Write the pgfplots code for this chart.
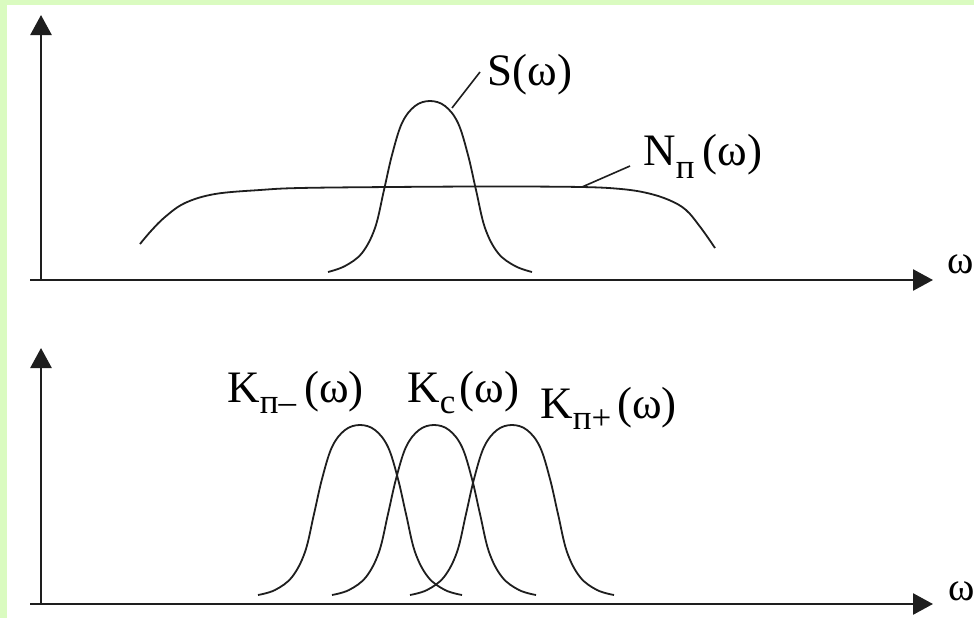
\documentclass[border=0pt]{standalone}
\usepackage{fontspec}
\setmainfont{Liberation Serif}
\usepackage{pgfplots}
\pgfplotsset{compat=1.18}
\usetikzlibrary{arrows.meta}

\definecolor{framegreen}{RGB}{218,251,192}
\definecolor{inkgray}{RGB}{30,30,30}

\newcommand\lbl{\fontsize{22.5}{27}\selectfont}
\newcommand\sub[2][5.5pt]{\raisebox{-#1}{\fontsize{17.5}{19}\selectfont #2}}

\pgfplotsset{
  spectrum/.style={
    x=0.5pt, y=0.5pt, xmin=-41, xmax=933,
    axis lines=none, clip=false, anchor=south west,
  },
  curve/.style={inkgray, line width=0.9pt, smooth, tension=0.6, no markers},
}
\tikzset{
  axisarrow/.style={inkgray, line width=1.3pt, -{Triangle[width=10.5pt,length=10pt]}},
  leader/.style={inkgray, line width=0.8pt},
  tag/.style={anchor=base west, inner sep=0pt, font=\lbl},
  omega/.style={anchor=base west, inner sep=0pt, font=\fontsize{20}{22}\selectfont},
}

\begin{document}
\begin{tikzpicture}
\useasboundingbox (0,0) rectangle (487pt,309pt);
\fill[framegreen] (0,0) rectangle (487pt,309pt);
\fill[white] (3.5pt,0) rectangle (487pt,306.5pt);

% upper panel: signal spectrum S and noise spectrum N
\begin{axis}[spectrum, at={(0pt,154.5pt)}, ymin=-29, ymax=280]
  \draw[axisarrow] (axis cs:-11,0) -- (axis cs:892,0);
  \draw[axisarrow] (axis cs:0,0) -- (axis cs:0,265);
  % S(omega)
  \addplot[curve] coordinates {
    (287,8) (304,14) (321,27) (334,52) (343,90) (351,125) (361,157)
    (374,174) (389,179) (404,174) (417,157) (427,125) (435,90)
    (444,52) (457,27) (474,14) (491,8)};
  % N(omega)
  \addplot[curve] coordinates {
    (99,36) (110,49) (124,63) (144,77) (174,86) (219,90) (259,92)
    (350,93) (450,93.5) (540,93) (580,91) (606,87) (628,80) (645,70)
    (660,52) (674,32)};
  \draw[leader] (axis cs:411,172) -- (axis cs:439,208);
  \draw[leader] (axis cs:541,93) -- (axis cs:589,114);
  \node[tag] at (axis cs:446,195) {S(ω)};
  \node[tag] at (axis cs:602,115) {N\sub[6.5pt]{п}\hspace{4pt}(ω)};
  \node[omega] at (axis cs:906,7) {ω};
\end{axis}

% lower panel: filter responses
\begin{axis}[spectrum, at={(0pt,0pt)}, ymin=-14, ymax=295]
  \draw[axisarrow] (axis cs:-11,0) -- (axis cs:892,0);
  \draw[axisarrow] (axis cs:0,0) -- (axis cs:0,256);
  % K_{p-}
  \addplot[curve] coordinates {
    (217,9) (234,14) (251,27) (264,52) (273,90) (281,125) (291,157)
    (304,174) (319,179) (334,174) (347,157) (357,125) (365,90)
    (374,52) (387,27) (404,14) (421,9)};
  % K_c
  \addplot[curve] coordinates {
    (291,9) (308,14) (325,27) (338,52) (347,90) (355,125) (365,157)
    (378,174) (393,179) (408,174) (421,157) (431,125) (439,90)
    (448,52) (461,27) (478,14) (495,9)};
  % K_{p+}
  \addplot[curve] coordinates {
    (369,9) (386,14) (403,27) (416,52) (425,90) (433,125) (443,157)
    (456,174) (471,179) (486,174) (499,157) (509,125) (517,90)
    (526,52) (539,27) (556,14) (573,9)};
  \node[tag] at (axis cs:186,202) {K\sub{п–}\hspace{4pt}(ω)};
  \node[tag] at (axis cs:366,202) {K\sub{c}\hspace{2pt}(ω)};
  \node[tag] at (axis cs:499,186) {K\sub{п+}\hspace{3pt}(ω)};
  \node[omega] at (axis cs:907,4) {ω};
\end{axis}
\end{tikzpicture}
\end{document}
